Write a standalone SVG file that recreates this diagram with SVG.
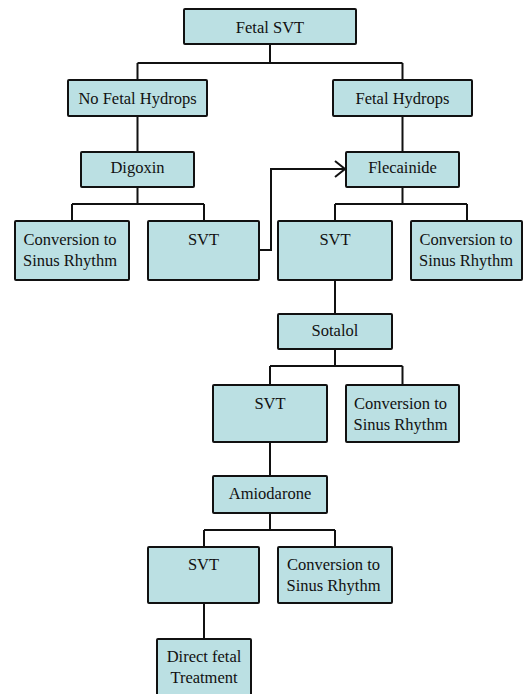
<svg xmlns="http://www.w3.org/2000/svg" width="524" height="694" viewBox="0 0 524 694">
<style>
.box{fill:#bbe0e3;stroke:#111;stroke-width:2;}
.t{font-family:"Liberation Serif","Times New Roman",serif;font-size:16.5px;fill:#111;text-anchor:middle;}
.c{fill:none;stroke:#111;stroke-width:2;}
</style>
<defs>
<marker id="arr" viewBox="0 0 12 18" refX="11" refY="9" markerWidth="12" markerHeight="18" markerUnits="userSpaceOnUse" orient="auto">
<path d="M1,1 L11,9 L1,17" fill="none" stroke="#111" stroke-width="2"/>
</marker>
</defs>
<rect width="524" height="694" fill="#fff"/>
<g id="connectors">
<path class="c" d="M270,44 V63 M137.5,63 H402.5 M137.5,63 V80 M402.5,63 V80"/>
<path class="c" d="M137.5,116 V152 M402.5,116 V152"/>
<path class="c" d="M137.5,187 V204 M72,204 H204 M72,204 V221 M204,204 V221"/>
<path class="c" d="M402.5,187 V204 M335,204 H467 M335,204 V221 M467,204 V221"/>
<path class="c" d="M259,250 H271 V169 H345" marker-end="url(#arr)"/>
<path class="c" d="M335,280 V314"/>
<path class="c" d="M335,349 V366 M270,366 H402.5 M270,366 V385 M402.5,366 V385"/>
<path class="c" d="M270,442 V476"/>
<path class="c" d="M270,513 V530 M204,530 H335 M204,530 V547 M335,530 V547"/>
<path class="c" d="M204,603 V639"/>
</g>
<g id="n1"><rect class="box" x="184" y="9" width="172" height="35" rx="1"/><text class="t" x="270" y="32.5">Fetal SVT</text></g>
<g id="n2"><rect class="box" x="68" y="80" width="139" height="36" rx="1"/><text class="t" x="137.5" y="104">No Fetal Hydrops</text></g>
<g id="n3"><rect class="box" x="333" y="80" width="139" height="36" rx="1"/><text class="t" x="402.5" y="104">Fetal Hydrops</text></g>
<g id="n4"><rect class="box" x="81" y="152" width="113" height="35" rx="1"/><text class="t" x="137.5" y="173">Digoxin</text></g>
<g id="n5"><rect class="box" x="346" y="152" width="113" height="35" rx="1"/><text class="t" x="402.5" y="173">Flecainide</text></g>
<g id="n6"><rect class="box" x="15" y="221" width="114" height="59" rx="1"/><text class="t" x="70" y="245">Conversion to</text><text class="t" x="70" y="266">Sinus Rhythm</text></g>
<g id="n7"><rect class="box" x="148" y="221" width="111" height="59" rx="1"/><text class="t" x="203.5" y="245">SVT</text></g>
<g id="n8"><rect class="box" x="278" y="221" width="114" height="59" rx="1"/><text class="t" x="335" y="245">SVT</text></g>
<g id="n9"><rect class="box" x="411" y="221" width="111" height="59" rx="1"/><text class="t" x="466" y="245">Conversion to</text><text class="t" x="466" y="266">Sinus Rhythm</text></g>
<g id="n10"><rect class="box" x="278" y="314" width="114" height="35" rx="1"/><text class="t" x="335" y="336">Sotalol</text></g>
<g id="n11"><rect class="box" x="213" y="385" width="114" height="57" rx="1"/><text class="t" x="270" y="409">SVT</text></g>
<g id="n12"><rect class="box" x="346" y="385" width="113" height="57" rx="1"/><text class="t" x="400.5" y="408.5">Conversion to</text><text class="t" x="400.5" y="429.5">Sinus Rhythm</text></g>
<g id="n13"><rect class="box" x="213" y="476" width="114" height="37" rx="1"/><text class="t" x="270" y="498.5">Amiodarone</text></g>
<g id="n14"><rect class="box" x="148" y="547" width="111" height="56" rx="1"/><text class="t" x="203.5" y="570">SVT</text></g>
<g id="n15"><rect class="box" x="278" y="547" width="114" height="56" rx="1"/><text class="t" x="333.5" y="570">Conversion to</text><text class="t" x="333.5" y="591">Sinus Rhythm</text></g>
<g id="n16"><rect class="box" x="157" y="639" width="94" height="70" rx="1"/><text class="t" x="204" y="662">Direct fetal</text><text class="t" x="204" y="683">Treatment</text></g>
</svg>
